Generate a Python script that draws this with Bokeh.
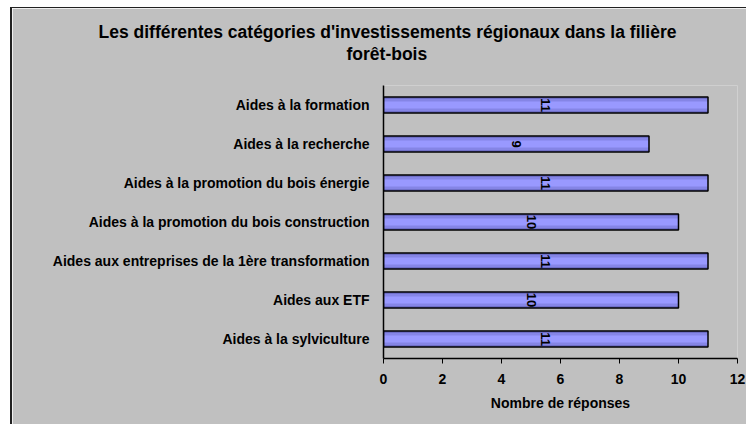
import math
from bokeh.plotting import figure
from bokeh.models import ColumnDataSource, FactorRange, Range1d, FixedTicker, Title
from bokeh.core.properties import value
from bokeh.embed import file_html
from bokeh.resources import INLINE

title_lines = ["Les différentes catégories d'investissements régionaux dans la filière", "forêt-bois"]
x_title = "Nombre de réponses"
categories = [
    "Aides à la formation",
    "Aides à la recherche",
    "Aides à la promotion du bois énergie",
    "Aides à la promotion du bois construction",
    "Aides aux entreprises de la 1ère transformation",
    "Aides aux ETF",
    "Aides à la sylviculture",
]
values = [11, 9, 11, 10, 11, 10, 11]
x_ticks = [0, 2, 4, 6, 8, 10, 12]

FONT = "Liberation Sans"
BG = "#C0C0C0"

src = ColumnDataSource(dict(
    cat=categories,
    val=values,
    mid=[v / 2 for v in values],
    lab=[str(v) for v in values],
))

p = figure(
    width=736, height=417,
    y_range=FactorRange(factors=list(reversed(categories)), range_padding=0),
    x_range=Range1d(0, 12),
    output_backend="svg", toolbar_location=None,
    min_border_left=371, min_border_right=11, min_border_top=77, min_border_bottom=67,
)
p.background_fill_color = BG
p.border_fill_color = BG
p.outline_line_color = None
p.grid.visible = False

# bars with simple shading
p.hbar(y="cat", right="val", left=0, height=0.41, source=src, fill_color="#6F6FC8", line_color=None)
p.hbar(y="cat", right="val", left=0, height=0.31, source=src, fill_color="#8585E6", line_color=None)
p.hbar(y="cat", right="val", left=0, height=0.18, source=src, fill_color="#9999FF", line_color=None)
p.hbar(y="cat", right="val", left=0, height=0.41, source=src, fill_alpha=0, line_color="#000000", line_width=1.5)

p.text(x="mid", y="cat", text="lab", source=src, angle=-math.pi / 2,
       text_align="center", text_baseline="middle",
       text_font=value(FONT), text_font_style="bold", text_font_size="13px", text_color="#000000")

# axes
xa = p.xaxis[0]
xa.ticker = FixedTicker(ticks=x_ticks)
xa.axis_label = x_title
xa.axis_line_color = "#000000"
xa.axis_line_width = 1.5
xa.major_tick_line_color = "#000000"
xa.major_tick_in = 0
xa.major_tick_out = 5
xa.minor_tick_line_color = None
xa.major_label_text_font = FONT
xa.major_label_text_font_style = "bold"
xa.major_label_text_font_size = "14px"
xa.major_label_text_color = "#000000"
xa.major_label_standoff = 10
xa.axis_label_text_font = FONT
xa.axis_label_text_font_style = "bold"
xa.axis_label_text_font_size = "14px"
xa.axis_label_text_color = "#000000"
xa.axis_label_standoff = 8

ya = p.yaxis[0]
ya.axis_line_color = "#000000"
ya.axis_line_width = 1.5
ya.major_tick_line_color = None
ya.minor_tick_line_color = None
ya.major_label_text_font = FONT
ya.major_label_text_font_style = "bold"
ya.major_label_text_font_size = "14px"
ya.major_label_text_color = "#000000"
ya.major_label_standoff = 8

# title (two lines, bottom line added first); left-aligned with offsets so both are centred near x=386
title_offsets = [-285, -37]
p.add_layout(Title(text=" ", text_font_size="9px"), "above")
for t, off in reversed(list(zip(title_lines, title_offsets))):
    p.add_layout(Title(text=t, align="left", offset=off, text_font=FONT,
                       text_font_style="bold", text_font_size="17.5px", text_color="#000000",
                       standoff=0), "above")

p.styles = {"margin-left": "10px", "margin-top": "7px",
            "border-left": "2px solid #222222", "border-top": "1px solid #222222"}

open("out.html", "w").write(file_html(p, INLINE))
